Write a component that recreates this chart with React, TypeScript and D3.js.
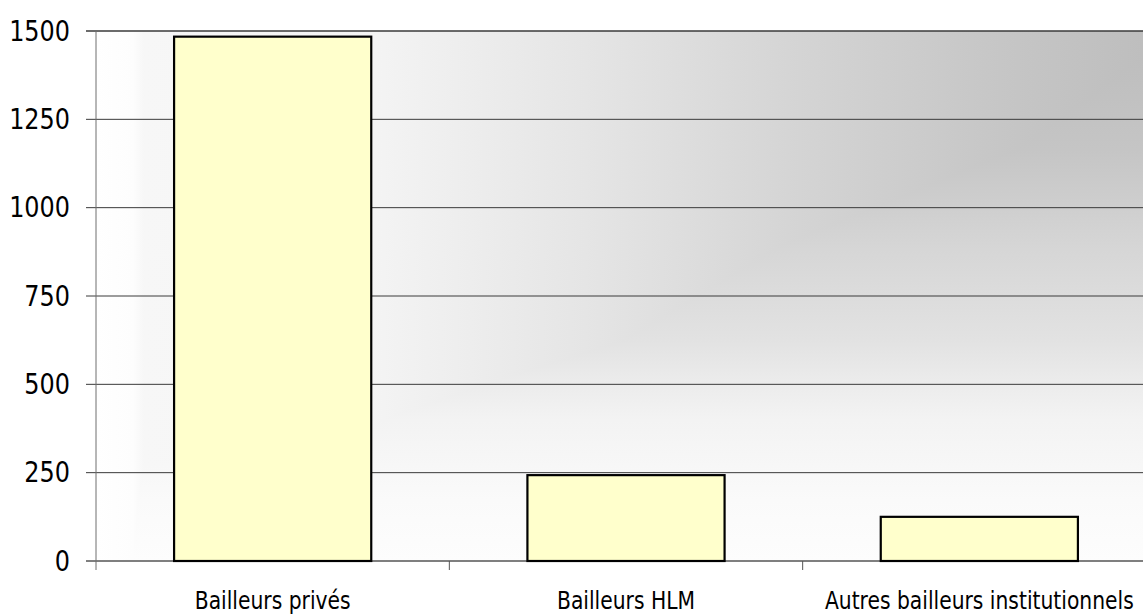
import React from "react";
import * as d3 from "d3";

const categories = ["Bailleurs privés", "Bailleurs HLM", "Autres bailleurs institutionnels"];
const values = [1484, 243, 125];
const yTicks = [0, 250, 500, 750, 1000, 1250, 1500];

const W = 1143;
const H = 615;
const plot = { left: 96, top: 31, bottom: 561, right: 1156 };

// shading of the plot area: darkest in the top-right corner, fading towards left and bottom
const hStops: [number, string][] = [
  [0, "#bcbcbc"],
  [0.012, "#bebebe"],
  [0.147, "#c6c6c6"],
  [0.336, "#d4d4d4"],
  [0.525, "#e4e4e4"],
  [0.742, "#f4f4f4"],
  [0.955, "#f7f7f7"],
  [0.965, "#fdfdfd"],
  [1, "#ffffff"],
];
const vStops: [number, string][] = [
  [0, "#bcbcbc"],
  [0.225, "#c5c5c5"],
  [0.413, "#d6d6d6"],
  [0.583, "#e2e2e2"],
  [0.658, "#ebebeb"],
  [0.734, "#f3f3f3"],
  [0.885, "#fafafa"],
  [1, "#fdfdfd"],
];

export default function App() {
  const x = d3
    .scaleBand<string>()
    .domain(categories)
    .range([plot.left, plot.right])
    .paddingInner(0.442)
    .paddingOuter(0.221);
  const step = x.step();
  const y = d3.scaleLinear().domain([0, 1500]).range([plot.bottom, plot.top]);

  const font = "'DejaVu Sans Condensed', 'DejaVu Sans', sans-serif";
  const pw = plot.right - plot.left;
  const ph = plot.bottom - plot.top;

  return (
    <svg
      width={W}
      height={H}
      style={{ position: "absolute", left: 0, top: 0, background: "#ffffff" }}
    >
      <defs>
        <linearGradient id="bgH" gradientUnits="userSpaceOnUse" x1={plot.right} y1={0} x2={plot.left} y2={0}>
          {hStops.map(([o, c]) => (
            <stop key={o} offset={o} stopColor={c} />
          ))}
        </linearGradient>
        <linearGradient id="bgV" gradientUnits="userSpaceOnUse" x1={0} y1={plot.top} x2={0} y2={plot.bottom}>
          {vStops.map(([o, c]) => (
            <stop key={o} offset={o} stopColor={c} />
          ))}
        </linearGradient>
      </defs>

      {/* plot background (lighter of the two ramps) */}
      <g style={{ isolation: "isolate" }}>
        <rect x={plot.left} y={plot.top} width={pw} height={ph} fill="url(#bgH)" />
        <rect
          x={plot.left}
          y={plot.top}
          width={pw}
          height={ph}
          fill="url(#bgV)"
          style={{ mixBlendMode: "lighten" }}
        />
      </g>

      {/* horizontal gridlines */}
      {yTicks.map((t) => (
        <line
          key={"g" + t}
          x1={plot.left - 10}
          x2={plot.right}
          y1={y(t)}
          y2={y(t)}
          stroke={t === 0 ? "#000" : "#3a3a3a"}
          strokeWidth={t === 1500 ? 1.4 : 1}
        />
      ))}

      {/* bars */}
      {categories.map((c, i) => (
        <rect
          key={c}
          x={x(c)}
          y={y(values[i])}
          width={x.bandwidth()}
          height={y(0) - y(values[i])}
          fill="#ffffcc"
          stroke="#000"
          strokeWidth={2.2}
        />
      ))}

      {/* y axis */}
      <line x1={plot.left} x2={plot.left} y1={plot.top} y2={plot.bottom + 9} stroke="#6e6e6e" strokeWidth={1} />

      {/* category ticks */}
      {categories.map((c) => {
        const bx = (x(c) as number) - step * 0.221 + step;
        return (
          <line key={"t" + c} x1={bx} x2={bx} y1={plot.bottom} y2={plot.bottom + 9} stroke="#555" strokeWidth={1} />
        );
      })}

      {/* y tick labels */}
      {yTicks.map((t) => (
        <text
          key={"l" + t}
          transform={`translate(70,${y(t)}) scale(0.95,1)`}
          textAnchor="end"
          dominantBaseline="central"
          fontFamily={font}
          fontSize={28}
          fill="#000"
        >
          {t}
        </text>
      ))}

      {/* category labels */}
      {categories.map((c) => (
        <text
          key={"c" + c}
          transform={`translate(${(x(c) as number) + x.bandwidth() / 2},609) scale(0.94,1)`}
          textAnchor="middle"
          fontFamily={font}
          fontSize={24}
          fill="#000"
        >
          {c}
        </text>
      ))}
    </svg>
  );
}
